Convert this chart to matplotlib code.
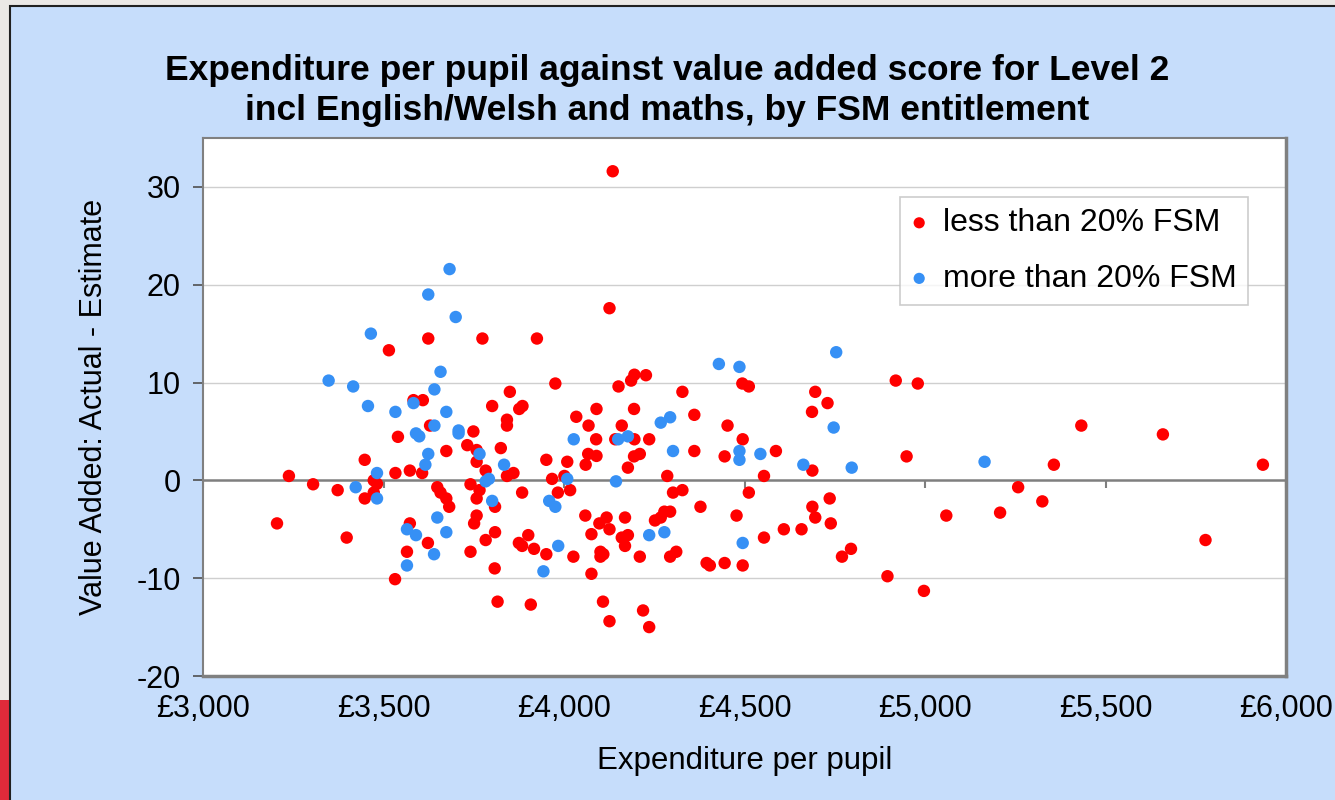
import matplotlib
matplotlib.use("Agg")
import matplotlib.pyplot as plt
from matplotlib.patches import Rectangle
from matplotlib.ticker import FuncFormatter

plt.rcParams['font.family'] = ['Liberation Sans', 'DejaVu Sans']
plt.rcParams['axes.unicode_minus'] = False

# less than 20% FSM
red_x = [4135, 4126, 3624, 3774, 3925, 3515, 3976, 3850, 3583, 3609,
         3801, 3876, 3885, 3842, 3842, 4034, 4068, 4090, 3629, 3749,
         3540, 4089, 3674, 3732, 3758, 3825, 4067, 4090, 3448, 3758,
         3951, 4009, 4060, 3783, 3533, 3573, 3607, 3238, 3842, 3860,
         4001, 3967, 3473, 3482, 3305, 3373, 3741, 3649, 3658, 3674,
         3682, 3766, 3758, 3884, 3983, 4017, 3448, 3473, 3809, 4059,
         4098, 3758, 3751, 3573, 3205, 3398, 3623, 3565, 3532, 3809,
         3783, 3741, 3808, 3816, 3908, 3901, 3875, 3884, 3917, 3951,
         4026, 4076, 4076, 4101, 4109, 4101, 4108, 4151, 4186, 4195,
         4227, 4328, 4494, 4512, 4696, 4730, 4687, 4919, 4980, 4160,
         4194, 4361, 4453, 4142, 4195, 4236, 4361, 4445, 4495, 4587,
         4688, 4949, 4194, 4210, 4177, 4286, 4554, 4302, 4328, 4512,
         4378, 4478, 4736, 4688, 4696, 4739, 4609, 4658, 4554, 4770,
         4795, 4896, 4997, 5059, 4118, 4126, 4169, 4160, 4177, 4169,
         4252, 4278, 4294, 4268, 4210, 4294, 4311, 4395, 4404, 4445,
         4495, 4126, 4219, 4236, 5433, 5659, 5357, 5936, 5258, 5325,
         5208, 5777]
red_y = [31.6, 17.6, 14.5, 14.5, 14.5, 13.3, 9.9, 9.05, 8.2, 8.2,
         7.6, 7.3, 7.6, 6.2, 5.6, 6.5, 5.6, 7.3, 5.6, 5.0,
         4.45, 4.2, 3.0, 3.6, 3.1, 3.3, 2.7, 2.5, 2.1, 1.9,
         2.1, 1.9, 1.6, 1.0, 0.75, 1.0, 0.75, 0.45, 0.45, 0.75,
         0.45, 0.15, 0.0, -0.35, -0.4, -1.0, -0.4, -0.7, -1.25, -1.85,
         -2.7, -1.0, -1.85, -1.25, -1.25, -1.0, -1.85, -1.25, -2.7, -3.6,
         -4.4, -3.6, -4.4, -4.4, -4.4, -5.85, -6.4, -7.3, -10.1, -5.3,
         -6.1, -7.3, -9.0, -12.4, -12.7, -5.6, -6.4, -6.7, -7.0, -7.55,
         -7.8, -5.5, -9.55, -7.3, -7.55, -7.8, -12.4, 9.6, 10.2, 10.8,
         10.75, 9.05, 9.9, 9.6, 9.05, 7.9, 7.0, 10.2, 9.9, 5.6,
         7.3, 6.7, 5.6, 4.2, 4.2, 4.2, 3.0, 2.45, 4.2, 3.0,
         1.0, 2.45, 2.45, 2.7, 1.3, 0.45, 0.45, -1.25, -1.0, -1.25,
         -2.7, -3.6, -1.85, -2.7, -3.8, -4.4, -5.0, -5.0, -5.85, -7.8,
         -7.0, -9.8, -11.3, -3.6, -3.8, -5.0, -3.8, -5.85, -5.6, -6.7,
         -4.1, -3.2, -3.2, -3.8, -7.8, -7.8, -7.3, -8.45, -8.7, -8.45,
         -8.7, -14.4, -13.3, -15.0, 5.6, 4.7, 1.6, 1.6, -0.7, -2.15,
         -3.3, -6.1]

# more than 20% FSM
blue_x = [3683, 3624, 3700, 3465, 3658, 3348, 3416, 3641, 3583, 3457,
          3533, 3674, 3641, 3708, 3708, 3590, 3599, 4027, 3766, 3624,
          3616, 3834, 3482, 4009, 3423, 3783, 3792, 3482, 3801, 3959,
          3976, 3565, 3590, 3649, 3674, 3640, 3565, 3984, 3943, 4429,
          4486, 4754, 4268, 4294, 4747, 4150, 4177, 4302, 4486, 4486,
          4544, 4663, 4797, 4144, 4236, 4278, 4495, 5165]
blue_y = [21.6, 19.0, 16.7, 15.0, 11.1, 10.2, 9.6, 9.3, 7.9, 7.6,
          7.0, 7.0, 5.6, 5.1, 4.8, 4.8, 4.5, 4.2, 2.7, 2.7,
          1.6, 1.6, 0.75, 0.15, -0.7, -0.1, 0.15, -1.85, -2.1, -2.1,
          -2.7, -5.0, -5.6, -3.8, -5.3, -7.55, -8.7, -6.7, -9.3, 11.9,
          11.6, 13.1, 5.9, 6.45, 5.4, 4.2, 4.5, 3.0, 3.0, 2.1,
          2.7, 1.6, 1.3, -0.1, -5.6, -5.3, -6.4, 1.9]

x_ticks = [3000, 3500, 4000, 4500, 5000, 5500, 6000]
y_ticks = [-20, -10, 0, 10, 20, 30]

RED = '#FF0000'
BLUE = '#3690F5'
PANEL = '#C6DDFB'

fig = plt.figure(figsize=(13.35, 8), dpi=100)
fig.patch.set_facecolor('#ebe8e5')

# chart panel and the stray bits at the left edge
fig.patches.append(Rectangle((0, 0), 10 / 1335, 0.125, transform=fig.transFigure,
                             facecolor='#e02a3a', edgecolor='none', zorder=-10))
fig.patches.append(Rectangle((10 / 1335, -0.01), 1.0, 1 - 6 / 800 + 0.01,
                             transform=fig.transFigure, facecolor=PANEL,
                             edgecolor='#202020', lw=1.5, zorder=-10))

ax = fig.add_axes([203 / 1335, 124 / 800, 1083 / 1335, 538 / 800])
ax.set_facecolor('white')

ax.set_xlim(3000, 6000)
ax.set_ylim(-20, 35)
ax.set_xticks(x_ticks)
ax.set_yticks(y_ticks)
ax.xaxis.set_major_formatter(FuncFormatter(lambda v, p: f"£{v:,.0f}"))

for y in y_ticks:
    if y != 0:
        ax.axhline(y, color='#cfcfcf', lw=1, zorder=1)
ax.axhline(0, color='#7f7f7f', lw=1.8, zorder=2)
ax.vlines(x_ticks, -0.8, 0, colors='#7f7f7f', lw=1.5, zorder=2)

ax.scatter(red_x, red_y, s=80, color=RED, edgecolors='none', zorder=3,
           label='less than 20% FSM')
ax.scatter(blue_x, blue_y, s=80, color=BLUE, edgecolors='none', zorder=4,
           label='more than 20% FSM')

for side in ['left', 'top']:
    ax.spines[side].set_color('#808080')
    ax.spines[side].set_linewidth(1.5)
for side in ['right', 'bottom']:
    ax.spines[side].set_color('#808080')
    ax.spines[side].set_linewidth(2.5)

ax.tick_params(axis='x', length=0, pad=13, labelsize=22)
ax.tick_params(axis='y', length=7, width=1.2, color='#505050', pad=9, labelsize=22)

ax.set_xlabel('Expenditure per pupil', fontsize=22.5, labelpad=16)
ax.set_ylabel('Value Added: Actual - Estimate', fontsize=22, labelpad=20)

fig.text(0.5, 0.887,
         'Expenditure per pupil against value added score for Level 2\n'
         'incl English/Welsh and maths, by FSM entitlement',
         ha='center', va='center', fontsize=25.5, fontweight='bold',
         linespacing=1.25)

leg = ax.legend(loc='upper left', bbox_to_anchor=(0.6436, 0.8903),
                borderaxespad=0, fontsize=23, frameon=True, fancybox=False,
                handletextpad=0.5, borderpad=0.35, labelspacing=0.8,
                markerscale=0.9, handlelength=0.5)
leg.get_frame().set_edgecolor('#c0c0c0')
leg.get_frame().set_linewidth(1.2)

fig.savefig('out.png', dpi=100, facecolor=fig.get_facecolor())
